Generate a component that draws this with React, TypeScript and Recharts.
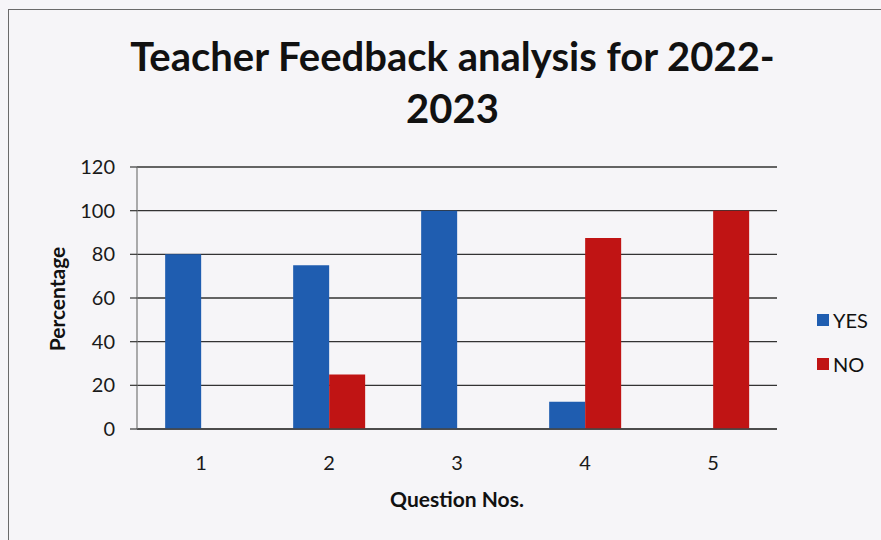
import React from 'react';
import { BarChart, Bar, XAxis, YAxis, CartesianGrid } from 'recharts';

const questions = ['1', '2', '3', '4', '5'];
const yesValues = [80, 75, 100, 12.5, 0];
const noValues = [0, 25, 0, 87.5, 100];
const yTicks = [0, 20, 40, 60, 80, 100, 120];
const seriesNames = ['YES', 'NO'];

const data = questions.map((q, i) => ({ question: q, YES: yesValues[i], NO: noValues[i] }));

const FONT = 'Lato, "Open Sans", sans-serif';
const BLUE = '#1f5db0';
const RED = '#c01414';
const colors: Record<string, string> = { YES: BLUE, NO: RED };

export default function App() {
  return (
    <div
      style={{
        position: 'absolute',
        left: 0,
        top: 0,
        width: 881,
        height: 540,
        background: '#f6f5f8',
        overflow: 'hidden',
      }}
    >
      <div
        style={{
          position: 'absolute',
          left: 8,
          top: 9,
          width: 900,
          height: 560,
          border: '1.5px solid #6a6a6a',
        }}
      />
      <div
        style={{
          position: 'absolute',
          left: 0,
          top: 30,
          width: 905,
          textAlign: 'center',
          fontFamily: FONT,
          fontWeight: 700,
          fontSize: 40,
          lineHeight: '52px',
          color: '#111',
        }}
      >
        <div>Teacher Feedback analysis for 2022-</div>
        <div>2023</div>
      </div>
      <div
        style={{
          position: 'absolute',
          left: 56,
          top: 299,
          transform: 'translate(-50%, -50%) rotate(-90deg)',
          fontFamily: FONT,
          fontWeight: 700,
          fontSize: 21,
          color: '#111',
          whiteSpace: 'nowrap',
        }}
      >
        Percentage
      </div>
      <div
        style={{
          position: 'absolute',
          left: 457,
          top: 498,
          transform: 'translate(-50%, -50%)',
          fontFamily: FONT,
          fontWeight: 700,
          fontSize: 21,
          color: '#111',
          whiteSpace: 'nowrap',
        }}
      >
        Question Nos.
      </div>
      <div style={{ position: 'absolute', left: 817, top: 298, fontFamily: FONT, fontSize: 20, color: '#111' }}>
        {seriesNames.map((name) => (
          <div key={name} style={{ display: 'flex', alignItems: 'center', height: 44 }}>
            <span style={{ width: 12, height: 12, background: colors[name], marginRight: 4, display: 'inline-block' }} />
            {name}
          </div>
        ))}
      </div>
      <div style={{ position: 'absolute', left: 0, top: 0 }}>
        <BarChart
          width={881}
          height={540}
          data={data}
          margin={{ top: 167, right: 104, bottom: 0, left: 0 }}
          barCategoryGap="22%"
          barGap={0}
        >
          <CartesianGrid vertical={false} stroke="#333" strokeWidth={1.3} />
          <XAxis
            dataKey="question"
            tickLine={false}
            axisLine={{ stroke: '#444', strokeWidth: 1.3 }}
            tickSize={6}
            tickMargin={21}
            height={111}
            tick={{ fontFamily: FONT, fontSize: 20, fill: '#1a1a1a' }}
          />
          <YAxis
            domain={[0, 120]}
            ticks={yTicks}
            width={137}
            tickSize={7}
            tickMargin={15}
            tickLine={{ stroke: '#444', strokeWidth: 1.3 }}
            axisLine={{ stroke: '#777', strokeWidth: 1.2 }}
            tick={{ fontFamily: FONT, fontSize: 20, fill: '#1a1a1a' }}
          />
          {seriesNames.map((name) => (
            <Bar key={name} dataKey={name} fill={colors[name]} isAnimationActive={false} />
          ))}
        </BarChart>
      </div>
    </div>
  );
}
